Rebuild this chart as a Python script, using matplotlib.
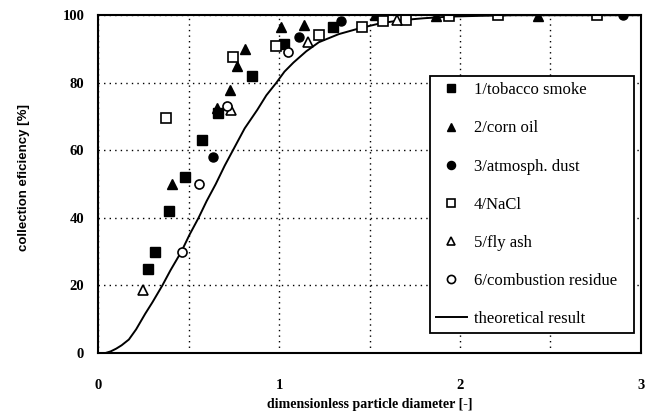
import matplotlib

matplotlib.use("Agg")
import matplotlib.pyplot as plt
import numpy as np

# measured series (dimensionless particle diameter, collection efficiency %)
tobacco_x = [0.277, 0.316, 0.39, 0.48, 0.575, 0.66, 0.85, 1.03, 1.30, 1.57]
tobacco_y = [25, 30, 42, 52, 63, 71, 82, 91.4, 96.4, 100]

corn_x = [0.41, 0.655, 0.73, 0.77, 0.81, 1.01, 1.14, 1.53, 1.87, 2.43]
corn_y = [50, 72.5, 78, 85, 90, 96.4, 97, 100, 99.8, 99.7]

dust_x = [0.635, 1.11, 1.34, 2.90]
dust_y = [58, 93.5, 98.3, 100]

nacl_x = [0.376, 0.745, 0.985, 1.22, 1.46, 1.575, 1.70, 1.94, 2.21, 2.76]
nacl_y = [69.6, 87.5, 91, 94, 96.4, 98.3, 98.5, 99.8, 100, 100]

flyash_x = [0.25, 0.735, 1.16, 1.65]
flyash_y = [18.8, 72, 92, 98.5]

residue_x = [0.465, 0.56, 0.71, 1.05]
residue_y = [30, 50, 73, 89]

# theoretical curve
theory_x = [0.0, 0.04, 0.07, 0.1, 0.13, 0.17, 0.21, 0.26, 0.3, 0.355, 0.4, 0.46,
            0.505, 0.555, 0.6, 0.65, 0.7, 0.745, 0.81, 0.88, 0.93, 0.985, 1.03,
            1.08, 1.15, 1.22, 1.33, 1.45, 1.56, 1.67, 1.8, 1.95, 2.1, 2.3, 2.6, 3.0]
theory_y = [0.0, 0.0, 0.5, 1.3, 2.3, 4.0, 7.0, 11.6, 15.0, 20, 24.5, 30,
            35, 40, 45, 50, 55.5, 60, 66.5, 72, 76.3, 80, 83.3,
            86, 89.3, 92, 94.4, 96.2, 97.6, 98.5, 99.1, 99.6, 99.8, 100, 100, 100]

x_ticks = [0, 1, 2, 3]
y_ticks = [0, 20, 40, 60, 80, 100]

serif = ["Liberation Serif", "DejaVu Serif"]

fig = plt.figure(figsize=(6.54, 4.11), dpi=100)
ax = fig.add_axes([0.150, 0.141, 0.830, 0.822])

ms = 6.5
ax.plot(tobacco_x, tobacco_y, "s", color="black", ms=ms, label="1/tobacco smoke")
ax.plot(corn_x, corn_y, "^", color="black", ms=ms, label="2/corn oil")
ax.plot(dust_x, dust_y, "o", color="black", ms=ms, label="3/atmosph. dust")
ax.plot(nacl_x, nacl_y, "s", mfc="white", mec="black", mew=1.2, ms=ms, label="4/NaCl")
ax.plot(flyash_x, flyash_y, "^", mfc="white", mec="black", mew=1.2, ms=ms, label="5/fly ash")
ax.plot(residue_x, residue_y, "o", mfc="white", mec="black", mew=1.2, ms=ms, label="6/combustion residue")
ax.plot(theory_x, theory_y, "-", color="black", lw=1.4, label="theoretical result", zorder=1)

ax.set_xlim(0, 3)
ax.set_ylim(0, 100)
ax.set_xticks(x_ticks)
ax.set_yticks(y_ticks)
ax.set_xticks([0.5, 1.5, 2.5], minor=True)
ax.grid(True, which="both", color="black", linestyle=(0, (1, 3)), lw=1.0)
ax.tick_params(which="both", length=0)
ax.tick_params(axis="x", pad=19)
ax.tick_params(axis="y", pad=10)
for lab in ax.get_xticklabels() + ax.get_yticklabels():
    lab.set_family(serif)
    lab.set_fontweight("bold")
    lab.set_fontsize(10.5)
for sp in ax.spines.values():
    sp.set_linewidth(1.5)

ax.set_xlabel("dimensionless particle diameter [-]", family=serif, fontweight="bold",
              fontsize=10, labelpad=4)
ax.set_ylabel("collection eficiency [%]", family=["Liberation Sans Narrow", "Liberation Sans"],
              fontweight="bold", fontsize=9.5)
ax.yaxis.set_label_coords(-0.125, 0.52)

leg = ax.legend(loc="upper left", bbox_to_anchor=(0.611, 0.819, 0.376, 0.0), mode="expand",
                borderaxespad=0, frameon=True, fancybox=False, edgecolor="black",
                prop={"family": serif, "size": 12}, labelspacing=1.33,
                handlelength=1.9, handletextpad=0.4, borderpad=0.35, markerscale=0.9)
leg.get_frame().set_linewidth(1.3)
leg.get_frame().set_alpha(1)

fig.savefig("out.png", dpi=100)
